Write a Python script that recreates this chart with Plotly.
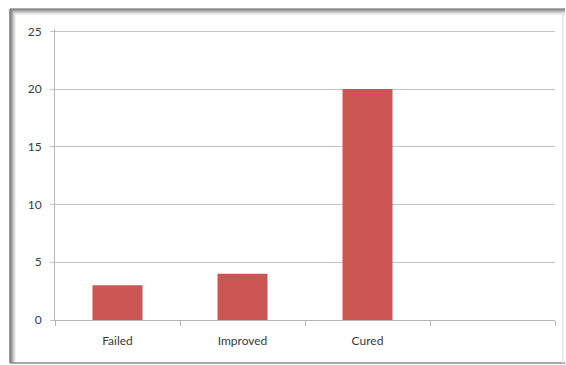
import plotly.graph_objects as go

# Outcome counts
categories = ["Failed", "Improved", "Cured", " "]
counts = [3, 4, 20, None]
y_ticks = [0, 5, 10, 15, 20, 25]

W, H = 566, 365
L, R, T, B = 55, 11, 29, 45
PW, PH = W - L - R, H - T - B


def px(x):
    return (x - L) / PW


def py(y):
    return (H - B - y) / PH


fig = go.Figure(
    go.Bar(
        x=categories,
        y=counts,
        marker=dict(color="#cb5552", line=dict(width=0)),
        width=0.4,
        hoverinfo="x+y",
    )
)

# Outer frame with a soft dark edge on the top and left
shapes = []
edge = ["#5a5a5a", "#6e6e6e", "#8a8a8a", "#a8a8a8", "#c8c8c8", "#e2e2e2"]
for i, c in enumerate(edge):
    shapes.append(dict(type="line", xref="paper", yref="paper",
                       x0=px(10 + i), x1=px(10 + i), y0=py(9 + i), y1=py(363),
                       line=dict(color=c, width=1.2)))
    shapes.append(dict(type="line", xref="paper", yref="paper",
                       x0=px(10 + i), x1=px(565), y0=py(9 + i), y1=py(9 + i),
                       line=dict(color=c, width=1.2)))
shapes.append(dict(type="line", xref="paper", yref="paper",
                   x0=px(10), x1=px(565), y0=py(363), y1=py(363),
                   line=dict(color="#8c8c8c", width=1.5)))
shapes.append(dict(type="line", xref="paper", yref="paper",
                   x0=px(563), x1=px(563), y0=py(12), y1=py(363),
                   line=dict(color="#e4e4e4", width=1.5)))

fig.update_layout(
    width=W,
    height=H,
    margin=dict(l=L, r=R, t=T, b=B),
    paper_bgcolor="white",
    plot_bgcolor="white",
    showlegend=False,
    bargap=0.6,
    font=dict(family="Lato, 'Open Sans', sans-serif", size=12, color="#3a3a3a"),
    shapes=shapes,
    xaxis=dict(
        type="category",
        categoryorder="array",
        categoryarray=categories,
        showgrid=False,
        showline=True,
        linecolor="#b5b5b5",
        linewidth=1,
        ticks="outside",
        tickson="boundaries",
        ticklen=5,
        tickcolor="#b5b5b5",
        tickfont=dict(size=12, color="#3a3a3a"),
        ticklabelstandoff=10,
        zeroline=False,
    ),
    yaxis=dict(
        range=[0, 25.2],
        tickvals=y_ticks,
        showgrid=True,
        gridcolor="#c4c4c4",
        gridwidth=1,
        showline=True,
        linecolor="#b5b5b5",
        linewidth=1,
        ticks="outside",
        ticklen=4,
        tickcolor="#c4c4c4",
        tickfont=dict(size=12, color="#3a3a3a"),
        ticklabelstandoff=6,
        zeroline=False,
    ),
)

fig.write_html("out.html")
